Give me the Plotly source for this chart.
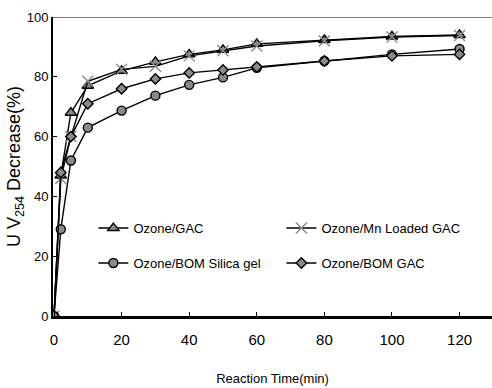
import plotly.graph_objects as go

# Reaction time (min) and UV254 decrease (%) for each treatment
time_min = [0, 2, 5, 10, 20, 30, 40, 50, 60, 80, 100, 120]
ozone_gac = [0, 47, 68, 77, 82, 85, 87.5, 89, 91, 92.3, 93.5, 94]
ozone_mn_gac = [0, 46, 60, 78.5, 82.5, 83.5, 87, 88.7, 90.3, 92, 93.3, 93.8]
ozone_bom_silica = [0, 29, 52, 63, 68.7, 73.7, 77.3, 79.8, 83, 85.3, 87.5, 89.3]
ozone_bom_gac = [0, 48, 60, 71, 76, 79.3, 81.3, 82.3, 83.3, 85.3, 87, 87.5]

x_ticks = [0, 20, 40, 60, 80, 100, 120]
y_ticks = [0, 20, 40, 60, 80, 100]

SANS = "Liberation Sans, Arial, sans-serif"

series = [
    ("Ozone/GAC", ozone_gac, "triangle-up", 10, "legend"),
    ("Ozone/Mn Loaded GAC", ozone_mn_gac, "x-thin-open", 11, "legend"),
    ("Ozone/BOM Silica gel", ozone_bom_silica, "circle", 9, "legend2"),
    ("Ozone/BOM GAC", ozone_bom_gac, "diamond", 8, "legend2"),
]

fig = go.Figure()
for name, vals, sym, size, leg in series:
    fig.add_trace(go.Scatter(
        x=time_min, y=vals, name=name, mode="lines+markers",
        line=dict(color="black", width=1.4),
        marker=dict(symbol=sym, size=size, color="#8a8a8a",
                    line=dict(color="black", width=1.4)),
        legend=leg,
    ))

legend_common = dict(
    orientation="h", xanchor="left", yanchor="middle",
    entrywidth=143, entrywidthmode="pixels",
    font=dict(family=SANS, size=13, color="black"),
    bgcolor="rgba(0,0,0,0)", itemwidth=30,
)

fig.update_layout(
    width=492, height=388,
    margin=dict(l=53, r=0, t=17, b=72),
    paper_bgcolor="white", plot_bgcolor="white",
    showlegend=True,
    legend=dict(x=0.092, y=0.294, **legend_common),
    legend2=dict(x=0.092, y=0.177, **legend_common),
    xaxis=dict(
        range=[-0.3, 129.6], tickvals=x_ticks, ticktext=[str(v) for v in x_ticks],
        showgrid=False, zeroline=False,
        showline=True, linecolor="black", linewidth=2.5,
        ticks="inside", ticklen=4, tickcolor="black",
        ticklabelstandoff=8,
        tickfont=dict(family=SANS, size=15, color="black"),
        title=dict(text="Reaction Time(min)", standoff=28,
                   font=dict(family=SANS, size=13, color="black")),
    ),
    yaxis=dict(
        range=[0, 100], tickvals=y_ticks, ticktext=[str(v) for v in y_ticks],
        showgrid=False, zeroline=False,
        showline=True, linecolor="black", linewidth=2,
        ticks="inside", ticklen=4, tickcolor="black",
        tickfont=dict(family=SANS, size=13, color="black"),
        title=dict(text="U V<sub>254</sub> Decrease(%)", standoff=1,
                   font=dict(family=SANS, size=18, color="black")),
    ),
)

# Top frame line of the plot area
fig.add_shape(type="line", xref="paper", yref="y", x0=0, x1=1, y0=100, y1=100,
              line=dict(color="#555555", width=1.5))

fig.write_html("out.html")
